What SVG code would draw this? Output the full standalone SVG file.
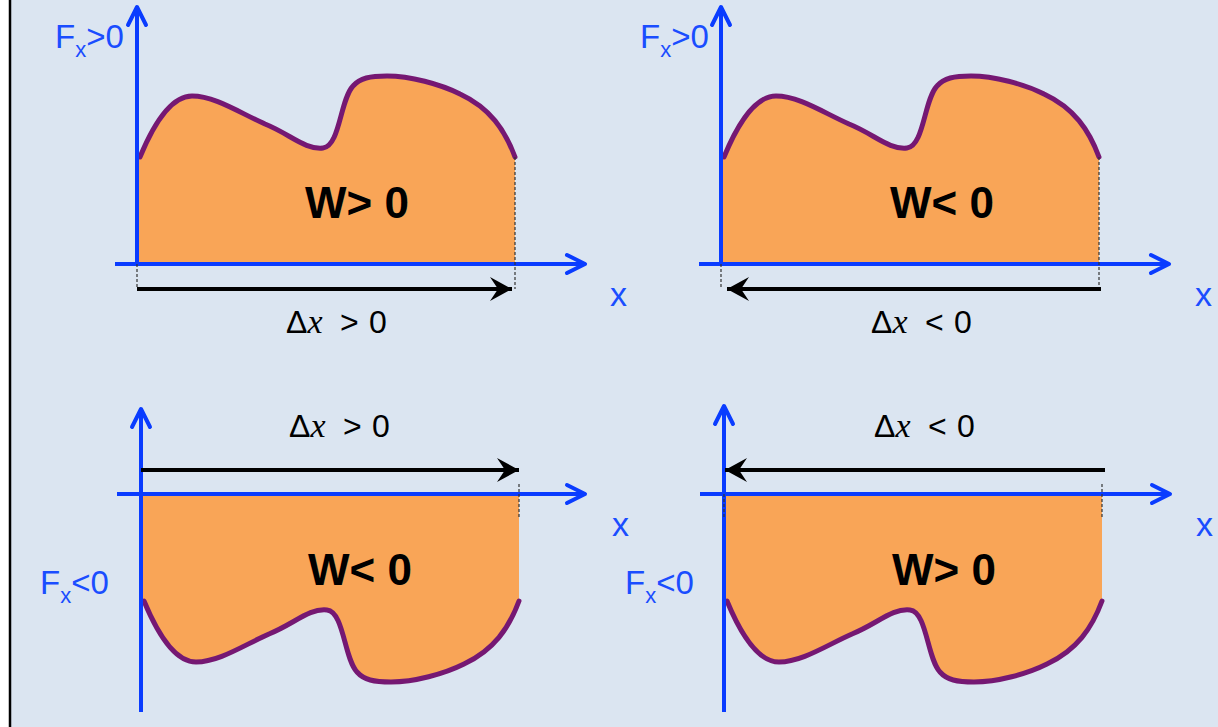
<svg xmlns="http://www.w3.org/2000/svg" xmlns:xlink="http://www.w3.org/1999/xlink" width="1218" height="727" viewBox="0 0 1218 727">
<style>
.bg{fill:#dbe5f1}
.ax{stroke:#0a3cff;stroke-width:4;fill:none}
.ah{stroke:#0a3cff;stroke-width:4;fill:none;stroke-linecap:round;stroke-linejoin:round}
.fill{fill:#f9a557}
.curve{stroke:#751873;stroke-width:5;fill:none;stroke-linecap:round}
.dash{stroke:#333;stroke-width:1.2;stroke-dasharray:3,2;fill:none}
.dx{stroke:#000;stroke-width:4;fill:none}
.lbl{font-family:"Liberation Sans",Arial,sans-serif;fill:#1a4dff;font-size:33px}
.sub{font-size:22px}
.xl{font-family:"Liberation Sans",Arial,sans-serif;fill:#1a4dff;font-size:34px}
.w{font-family:"Liberation Sans",Arial,sans-serif;font-weight:bold;font-size:44px;fill:#000}
.d{font-family:"Liberation Sans",Arial,sans-serif;font-size:32px;fill:#000}
.it{font-family:"Liberation Serif","Times New Roman",serif;font-style:italic;font-size:34px}
</style>
<defs>
<marker id="bh" markerWidth="26" markerHeight="26" viewBox="-24 -13 26 26" refX="0" refY="0" orient="auto" markerUnits="userSpaceOnUse">
<path d="M0,0 L-22,-12 L-14,0 L-22,12 Z" fill="#000"/>
</marker>
<path id="area" d="M137,264 V160 L140,157 C152,128 170,96 192,96 C215,96 240,113 265,124 C290,134 305,150 323,148 C340,146 340,100 353,86 C360,78 370,76 387,76 C410,76 440,84 460,94 C490,108 505,130 515,157 V264 Z"/>
<path id="crv" d="M140,157 C152,128 170,96 192,96 C215,96 240,113 265,124 C290,134 305,150 323,148 C340,146 340,100 353,86 C360,78 370,76 387,76 C410,76 440,84 460,94 C490,108 505,130 515,157"/>
</defs>
<rect x="0" y="0" width="1218" height="727" fill="#fff"/>
<rect class="bg" x="11" y="0" width="1207" height="727"/>
<line x1="10" y1="0" x2="10" y2="727" stroke="#000" stroke-width="2.5"/>

<g id="panel-top-left">
<use xlink:href="#area" class="fill"/>
<use xlink:href="#crv" class="curve"/>
<line class="ax" x1="137" y1="264" x2="137" y2="8"/>
<polyline class="ah" points="128,25 137,7 146,25"/>
<line class="ax" x1="115" y1="264" x2="584" y2="264"/>
<polyline class="ah" points="567,255 585,264 567,273"/>
<line class="dash" x1="515" y1="157" x2="515" y2="289"/>
<line class="dash" x1="137" y1="264" x2="137" y2="289"/>
<line class="dx" x1="137" y1="289" x2="512" y2="289" marker-end="url(#bh)"/>
<text class="lbl" x="55" y="48">F<tspan class="sub" dy="9">x</tspan><tspan dy="-9">&gt;0</tspan></text>
<text class="xl" x="610" y="306">x</text>
<text class="w" x="357" y="218" text-anchor="middle">W&gt; 0</text>
<text class="d" y="333"><tspan x="286">Δ</tspan><tspan class="it">x</tspan><tspan x="340">&gt;</tspan><tspan x="369">0</tspan></text>
</g>

<g id="panel-top-right">
<use xlink:href="#area" class="fill" transform="translate(584,0)"/>
<use xlink:href="#crv" class="curve" transform="translate(584,0)"/>
<line class="ax" x1="721" y1="264" x2="721" y2="8"/>
<polyline class="ah" points="712,25 721,7 730,25"/>
<line class="ax" x1="699" y1="264" x2="1168" y2="264"/>
<polyline class="ah" points="1151,255 1169,264 1151,273"/>
<line class="dash" x1="1099" y1="157" x2="1099" y2="289"/>
<line class="dash" x1="721" y1="264" x2="721" y2="289"/>
<line class="dx" x1="1101" y1="289" x2="727" y2="289" marker-end="url(#bh)"/>
<text class="lbl" x="640" y="48">F<tspan class="sub" dy="9">x</tspan><tspan dy="-9">&gt;0</tspan></text>
<text class="xl" x="1195" y="306">x</text>
<text class="w" x="942" y="218" text-anchor="middle">W&lt; 0</text>
<text class="d" y="333"><tspan x="871">Δ</tspan><tspan class="it">x</tspan><tspan x="925">&lt;</tspan><tspan x="954">0</tspan></text>
</g>

<g id="panel-bottom-left">
<use xlink:href="#area" class="fill" transform="translate(4,758) scale(1,-1)"/>
<use xlink:href="#crv" class="curve" transform="translate(4,758) scale(1,-1)"/>
<line class="ax" x1="141" y1="712" x2="141" y2="410"/>
<polyline class="ah" points="132,427 141,409 150,427"/>
<line class="ax" x1="117" y1="494" x2="584" y2="494"/>
<polyline class="ah" points="567,485 585,494 567,503"/>
<line class="dash" x1="519" y1="484" x2="519" y2="518"/>
<line class="dx" x1="141" y1="470" x2="519" y2="470" marker-end="url(#bh)"/>
<text class="lbl" x="40" y="594">F<tspan class="sub" dy="9">x</tspan><tspan dy="-9">&lt;0</tspan></text>
<text class="xl" x="612" y="536">x</text>
<text class="w" x="360" y="585" text-anchor="middle">W&lt; 0</text>
<text class="d" y="437"><tspan x="289">Δ</tspan><tspan class="it">x</tspan><tspan x="343">&gt;</tspan><tspan x="372">0</tspan></text>
</g>

<g id="panel-bottom-right">
<use xlink:href="#area" class="fill" transform="translate(587,758) scale(1,-1)"/>
<use xlink:href="#crv" class="curve" transform="translate(587,758) scale(1,-1)"/>
<line class="ax" x1="724" y1="712" x2="724" y2="407"/>
<polyline class="ah" points="715,424 724,406 733,424"/>
<line class="ax" x1="700" y1="494" x2="1169" y2="494"/>
<polyline class="ah" points="1152,485 1170,494 1152,503"/>
<line class="dash" x1="1102" y1="484" x2="1102" y2="518"/>
<line class="dash" x1="724" y1="494" x2="724" y2="518"/>
<line class="dx" x1="1105" y1="470" x2="725" y2="470" marker-end="url(#bh)"/>
<text class="lbl" x="625" y="594">F<tspan class="sub" dy="9">x</tspan><tspan dy="-9">&lt;0</tspan></text>
<text class="xl" x="1196" y="536">x</text>
<text class="w" x="944" y="585" text-anchor="middle">W&gt; 0</text>
<text class="d" y="437"><tspan x="874">Δ</tspan><tspan class="it">x</tspan><tspan x="928">&lt;</tspan><tspan x="957">0</tspan></text>
</g>
</svg>
